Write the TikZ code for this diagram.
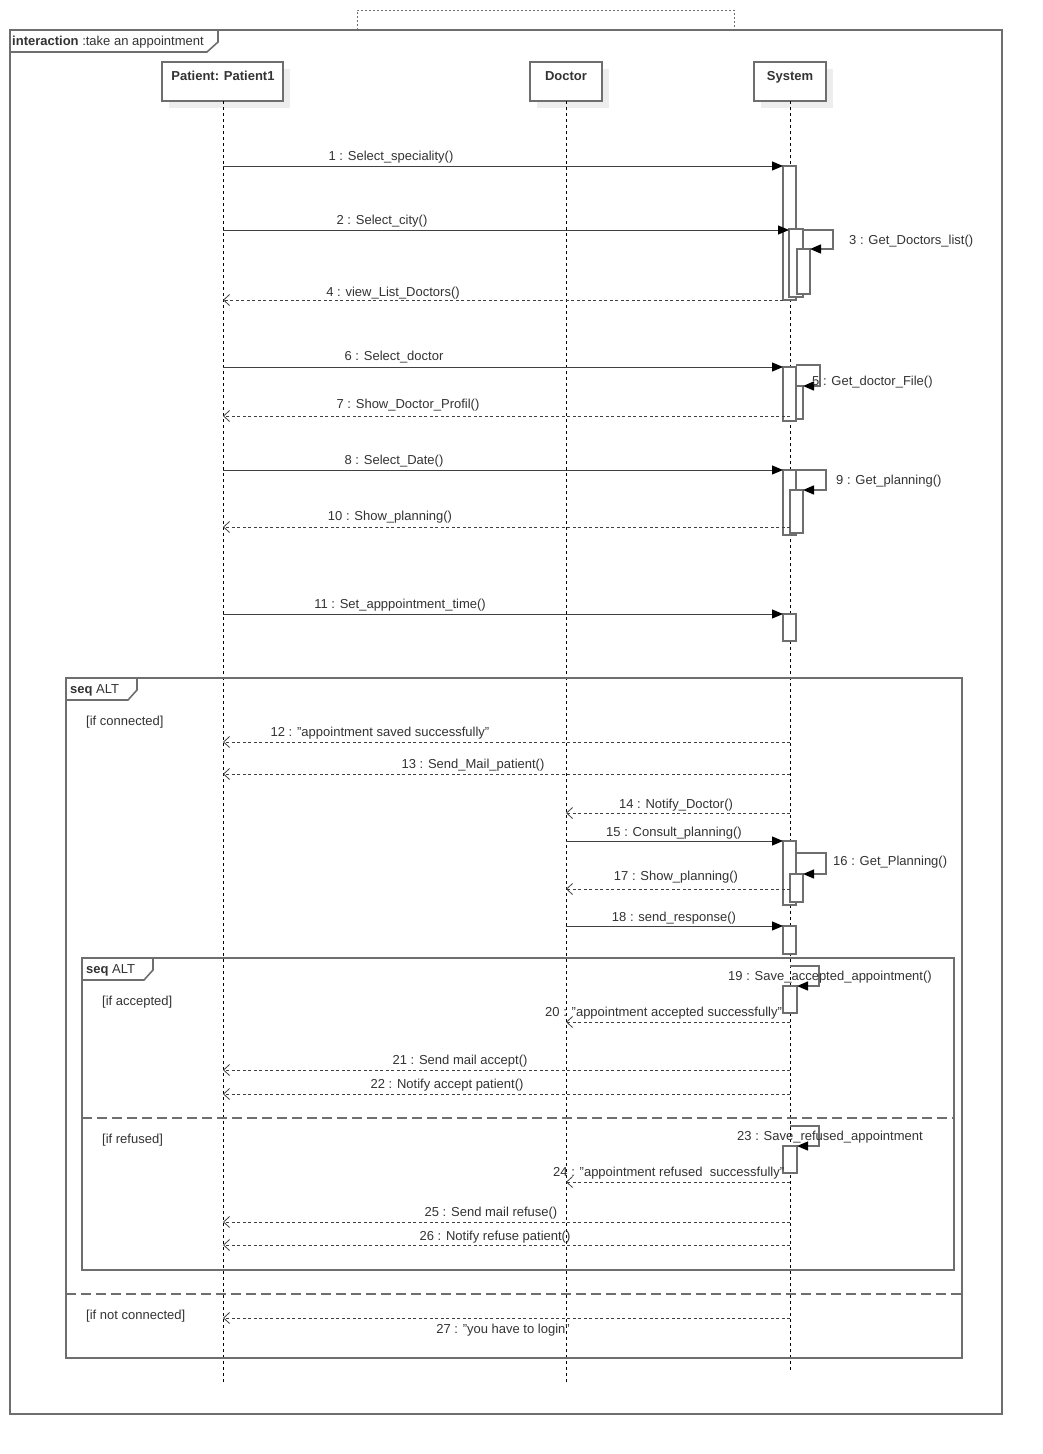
\documentclass[tikz,border=0pt]{standalone}
\usepackage{fontspec}
\setmainfont{Liberation Sans}
\usetikzlibrary{arrows.meta}
\definecolor{frm}{HTML}{6E6E6E}
\definecolor{txt}{HTML}{333333}
\definecolor{shd}{HTML}{EDEDED}
\newcommand{\qq}{\symbol{"22}}
\tikzset{
  lbl/.style={font=\fontsize{13}{15}\selectfont, text=txt, inner sep=0pt, yshift=-1.5pt},
  frame/.style={draw=frm, line width=1.6pt},
  head/.style={draw=frm, line width=1.4pt, fill=white},
  life/.style={draw=black, line width=0.8pt, dash pattern=on 3pt off 3pt},
  act/.style={draw=frm, line width=1.4pt, fill=white},
  sync/.style={draw=black!75, line width=1pt, -{Triangle[length=11pt,width=9pt,color=black]}},
  selfm/.style={draw=frm, line width=1.4pt, -{Triangle[length=11pt,width=9pt,color=black]}},
  ret/.style={draw=black!75, line width=1pt, dash pattern=on 3pt off 2.5pt, -{Straight Barb[length=6pt,width=11pt,line width=0.8pt]}},
  sep/.style={draw=frm, line width=1.6pt, dash pattern=on 10pt off 5pt},
}
\begin{document}
\begin{tikzpicture}[x=1pt,y=-1pt]
\useasboundingbox (0,0) rectangle (1042,1454);
\fill[white] (0,0) rectangle (1042,1454);

% dotted top box
\draw[frm, line width=1pt, dash pattern=on 2pt off 2pt] (357,30) -- (357,10) -- (734,10) -- (734,30);

% outer frame
\draw[frame] (10,30) rectangle (1002,1414);
\draw[frame, fill=white] (10,30) -- (218,30) -- (218,42) -- (207,52) -- (10,52) -- cycle;
\node[lbl, anchor=west] (ttl) at (12,41) {\textbf{interaction} :take an appointment};

% lifeline heads with shadow
\fill[shd] (169,69) rectangle (290,108);
\fill[shd] (537,69) rectangle (609,108);
\fill[shd] (761,69) rectangle (833,108);
\draw[head] (162,62) rectangle (283,101);
\draw[head] (530,62) rectangle (602,101);
\draw[head] (754,62) rectangle (826,101);
\node[lbl, font=\fontsize{13}{15}\selectfont\bfseries, anchor=base] (hP) at (223,79) {Patient: Patient1};
\node[lbl, font=\fontsize{13}{15}\selectfont\bfseries, anchor=base] (hD) at (566,79) {Doctor};
\node[lbl, font=\fontsize{13}{15}\selectfont\bfseries, anchor=base] (hS) at (790,79) {System};

% lifelines
\coordinate (Pt) at (223,101); \coordinate (Pb) at (223,1382);
\coordinate (Dt) at (566,101); \coordinate (Db) at (566,1382);
\coordinate (St) at (790,101); \coordinate (Sb) at (790,1370);
\draw[life] (Pt) -- (Pb);
\draw[life] (Dt) -- (Db);
\draw[life] (St) -- (Sb);

% combined fragments
\draw[frame] (66,678) rectangle (962,1358);
\draw[frame, fill=white] (66,678) -- (137,678) -- (137,690) -- (128,700) -- (66,700) -- cycle;
\node[lbl, anchor=west] (t1) at (70,689) {\textbf{seq} ALT};
\node[lbl, anchor=west] (g1) at (86,721) {[if connected]};
\draw[sep] (66,1294) -- (962,1294);
\node[lbl, anchor=west] (g4) at (86,1315) {[if not connected]};

\draw[frame] (82,958) rectangle (954,1270);
\draw[frame, fill=white] (82,958) -- (153,958) -- (153,970) -- (144,980) -- (82,980) -- cycle;
\node[lbl, anchor=west] (t2) at (86,969) {\textbf{seq} ALT};
\node[lbl, anchor=west] (g2) at (102,1001) {[if accepted]};
\draw[sep] (82,1118) -- (954,1118);
\node[lbl, anchor=west] (g3) at (102,1139) {[if refused]};

% activations
\draw[act] (783,166) rectangle (796,300);
\draw[act] (789,229) rectangle (803,297);
\draw[act] (797,249) rectangle (810,294);
\draw[act] (783,367) rectangle (796,421);
\draw[act] (796,386) rectangle (803,419);
\draw[act] (783,470) rectangle (796,535);
\draw[act] (790,490) rectangle (803,533);
\draw[act] (783,614) rectangle (796,641);
\draw[act] (783,841) rectangle (796,905);
\draw[act] (790,874) rectangle (803,902);
\draw[act] (783,926) rectangle (796,954);
\draw[act] (783,986) rectangle (797,1013);
\draw[act] (783,1146) rectangle (797,1173);

% messages
\coordinate (m1a) at (223,166); \coordinate (m1b) at (783,166);
\draw[sync] (m1a) -- (m1b);
\node[lbl] (l1) at (391,156) {1 : Select\_speciality()};

\coordinate (m2a) at (223,230); \coordinate (m2b) at (789,230);
\draw[sync] (m2a) -- (m2b);
\node[lbl] (l2) at (382,220) {2 : Select\_city()};

\coordinate (m3a) at (803,230); \coordinate (m3b) at (810,249);
\draw[selfm] (m3a) -- (833,230) -- (833,249) -- (m3b);
\node[lbl, anchor=west] (l3) at (849,240) {3 : Get\_Doctors\_list()};

\coordinate (m4a) at (783,300); \coordinate (m4b) at (223,300);
\draw[ret] (m4a) -- (m4b);
\node[lbl] (l4) at (393,292) {4 : view\_List\_Doctors()};

\coordinate (m6a) at (223,367); \coordinate (m6b) at (783,367);
\draw[sync] (m6a) -- (m6b);
\node[lbl] (l6) at (394,356) {6 : Select\_doctor};

\coordinate (m5a) at (796,365); \coordinate (m5b) at (803,386);
\draw[selfm] (m5a) -- (820,365) -- (820,386) -- (m5b);
\node[lbl, anchor=west] (l5) at (812,381) {5 : Get\_doctor\_File()};

\coordinate (m7a) at (790,416); \coordinate (m7b) at (223,416);
\draw[ret] (m7a) -- (m7b);
\node[lbl] (l7) at (408,404) {7 : Show\_Doctor\_Profil()};

\coordinate (m8a) at (223,470); \coordinate (m8b) at (783,470);
\draw[sync] (m8a) -- (m8b);
\node[lbl] (l8) at (394,460) {8 : Select\_Date()};

\coordinate (m9a) at (796,470); \coordinate (m9b) at (803,490);
\draw[selfm] (m9a) -- (826,470) -- (826,490) -- (m9b);
\node[lbl, anchor=west] (l9) at (836,480) {9 : Get\_planning()};

\coordinate (m10a) at (790,527); \coordinate (m10b) at (223,527);
\draw[ret] (m10a) -- (m10b);
\node[lbl] (l10) at (390,516) {10 : Show\_planning()};

\coordinate (m11a) at (223,614); \coordinate (m11b) at (783,614);
\draw[sync] (m11a) -- (m11b);
\node[lbl] (l11) at (400,604) {11 : Set\_apppointment\_time()};

\coordinate (m12a) at (790,742); \coordinate (m12b) at (223,742);
\draw[ret] (m12a) -- (m12b);
\node[lbl] (l12) at (380,732) {12 : \qq appointment saved successfully\qq};

\coordinate (m13a) at (790,774); \coordinate (m13b) at (223,774);
\draw[ret] (m13a) -- (m13b);
\node[lbl] (l13) at (473,764) {13 : Send\_Mail\_patient()};

\coordinate (m14a) at (790,813); \coordinate (m14b) at (566,813);
\draw[ret] (m14a) -- (m14b);
\node[lbl] (l14) at (676,804) {14 : Notify\_Doctor()};

\coordinate (m15a) at (566,841); \coordinate (m15b) at (783,841);
\draw[sync] (m15a) -- (m15b);
\node[lbl] (l15) at (674,832) {15 : Consult\_planning()};

\coordinate (m16a) at (796,853); \coordinate (m16b) at (803,874);
\draw[selfm] (m16a) -- (826,853) -- (826,874) -- (m16b);
\node[lbl, anchor=west] (l16) at (833,861) {16 : Get\_Planning()};

\coordinate (m17a) at (790,889); \coordinate (m17b) at (566,889);
\draw[ret] (m17a) -- (m17b);
\node[lbl] (l17) at (676,876) {17 : Show\_planning()};

\coordinate (m18a) at (566,926); \coordinate (m18b) at (783,926);
\draw[sync] (m18a) -- (m18b);
\node[lbl] (l18) at (674,917) {18 : send\_response()};

\coordinate (m19a) at (790,966); \coordinate (m19b) at (797,986);
\draw[selfm] (m19a) -- (819,966) -- (819,986) -- (m19b);
\node[lbl, anchor=west] (l19) at (728,976) {19 : Save\_accepted\_appointment()};

\coordinate (m20a) at (790,1022); \coordinate (m20b) at (566,1022);
\draw[ret] (m20a) -- (m20b);
\node[lbl, anchor=west] (l20) at (545,1012) {20 : \qq appointment accepted successfully\qq};

\coordinate (m21a) at (790,1070); \coordinate (m21b) at (223,1070);
\draw[ret] (m21a) -- (m21b);
\node[lbl] (l21) at (460,1060) {21 : Send mail accept()};

\coordinate (m22a) at (790,1094); \coordinate (m22b) at (223,1094);
\draw[ret] (m22a) -- (m22b);
\node[lbl] (l22) at (447,1084) {22 : Notify accept patient()};

\coordinate (m23a) at (790,1126); \coordinate (m23b) at (797,1146);
\draw[selfm] (m23a) -- (819,1126) -- (819,1146) -- (m23b);
\node[lbl, anchor=west] (l23) at (737,1136) {23 : Save\_refused\_appointment};

\coordinate (m24a) at (790,1182); \coordinate (m24b) at (566,1182);
\draw[ret] (m24a) -- (m24b);
\node[lbl, anchor=west] (l24) at (553,1172) {24 : \qq appointment refused\ \ successfully\qq};

\coordinate (m25a) at (790,1222); \coordinate (m25b) at (223,1222);
\draw[ret] (m25a) -- (m25b);
\node[lbl] (l25) at (491,1212) {25 : Send mail refuse()};

\coordinate (m26a) at (790,1245); \coordinate (m26b) at (223,1245);
\draw[ret] (m26a) -- (m26b);
\node[lbl] (l26) at (495,1236) {26 : Notify refuse patient()};

\coordinate (m27a) at (790,1318); \coordinate (m27b) at (223,1318);
\draw[ret] (m27a) -- (m27b);
\node[lbl] (l27) at (503,1329) {27 : \qq you have to login\qq};
\end{tikzpicture}
\end{document}
